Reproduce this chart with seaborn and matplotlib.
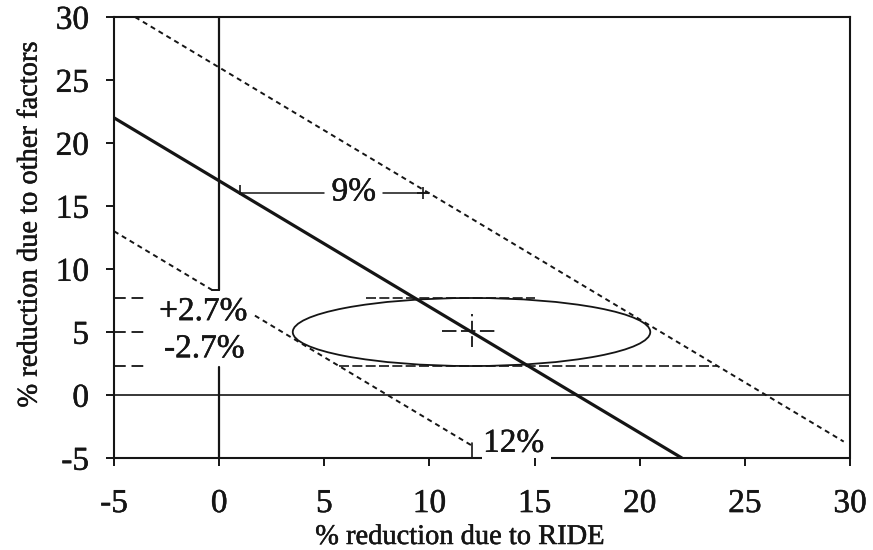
import matplotlib
matplotlib.use("Agg")
import matplotlib.pyplot as plt
import matplotlib.patheffects as pe
from matplotlib.patches import Ellipse
import seaborn as sns

# ---- data -------------------------------------------------------------
ticks = [-5, 0, 5, 10, 15, 20, 25, 30]

# central line: RIDE + other factors = 17 %
central_ride = [-5, 22]
central_other = [22, -5]
# +9 % band line
upper_ride = [-4, 29.7]
upper_other = [30, -3.7]
# -9 % band line (broken where the "+2.7%" label sits)
lower_ride_a = [-5, -0.2]
lower_other_a = [13, 8.2]
lower_ride_b = [1.7, 12]
lower_other_b = [6.3, -4]

# estimate and its uncertainty ellipse
est_ride = 12.0
est_other = 5.0
ellipse_width = 17.0
other_err = 2.7
cross_ride = [10.6, 13.2]
cross_other = [3.8, 6.4]

# horizontal guides at the estimate +/- 2.7 %
guide_levels = [est_other + other_err, est_other, est_other - other_err]
guide_left = [-5, -3.5]
upper_guide_ride = [7.0, 15.0]
lower_guide_ride = [5.7, 23.7]

# axis guide lines at zero (vertical one broken by the labels)
zero_upper = [30, 8.3]
zero_lower = [2.2, -5]

# "9%" dimension line
nine_y = 16.0
nine_ride_a = [1.0, 5.0]
nine_ride_b = [7.8, 10.0]
nine_label_x = 6.4

# "12%" marker
twelve_x = 12.0
twelve_tick = [-3.8, -5]
bottom_frame_a = [-5, 12.5]
bottom_frame_b = [15.8, 30]

# ---- style ------------------------------------------------------------
sns.set_theme(style="ticks")
serif = ["Liberation Serif", "DejaVu Serif"]
plt.rcParams["font.family"] = serif
plt.rcParams["axes.unicode_minus"] = False
ink = "#151515"
heavy = [pe.withStroke(linewidth=0.35, foreground=ink)]

fig = plt.figure(figsize=(8.73, 5.5), dpi=100)
ax = fig.add_axes([0.1306, 0.1673, 0.8431, 0.8017])

lw_frame = 1.5
for side in ["top", "left", "right"]:
    ax.spines[side].set_linewidth(lw_frame)
    ax.spines[side].set_color(ink)
ax.spines["bottom"].set_visible(False)

# bottom frame, broken for the "12%" label
for seg in (bottom_frame_a, bottom_frame_b):
    ax.plot(seg, [-5, -5], color=ink, lw=lw_frame, clip_on=False, zorder=3,
            solid_capstyle="butt")

# central line
sns.lineplot(x=central_ride, y=central_other, ax=ax, color=ink, lw=2.3,
             estimator=None, sort=False)
# band lines
dash_band = (0, (2.6, 2.1))
sns.lineplot(x=upper_ride, y=upper_other, ax=ax, color=ink, lw=1.4,
             linestyle=dash_band, estimator=None, sort=False)
sns.lineplot(x=lower_ride_a, y=lower_other_a, ax=ax, color=ink, lw=1.4,
             linestyle=dash_band, estimator=None, sort=False)
sns.lineplot(x=lower_ride_b, y=lower_other_b, ax=ax, color=ink, lw=1.4,
             linestyle=dash_band, estimator=None, sort=False)

# zero lines
ax.plot([-5, 30], [0, 0], color=ink, lw=1.2)
ax.plot([0, 0], zero_upper, color=ink, lw=1.6)
ax.plot([-0.35, 0], [zero_upper[1], zero_upper[1]], color=ink, lw=1.4)
ax.plot([0, 0], zero_lower, color=ink, lw=1.6)

# ellipse around the estimate
ax.add_patch(Ellipse((est_ride, est_other), ellipse_width, 2 * other_err,
                     fill=False, edgecolor=ink, lw=1.3))
# estimate cross
ax.plot(cross_ride, [est_other + 0.1] * 2, color=ink, lw=1.3,
        linestyle=(0, (8, 2.5)))
ax.plot([est_ride, est_ride], cross_other, color=ink, lw=1.3,
        linestyle=(0, (6, 2.5)))

# horizontal guides
dash_guide = (0, (6.5, 3.2))
for lvl in guide_levels:
    ax.plot(guide_left, [lvl, lvl], color=ink, lw=1.3, linestyle=dash_guide)
ax.plot(upper_guide_ride, [guide_levels[0]] * 2, color=ink, lw=1.2,
        linestyle=(0, (6, 2)))
ax.plot(lower_guide_ride, [guide_levels[2]] * 2, color=ink, lw=1.2,
        linestyle=(0, (6, 2)))

# "9%" dimension line
ax.plot(nine_ride_a, [nine_y] * 2, color=ink, lw=1.1)
ax.plot(nine_ride_b, [nine_y] * 2, color=ink, lw=1.1)
ax.plot([nine_ride_a[0]], [nine_y + 0.25], marker="|", ms=7, mew=1.2, color=ink)
ax.plot([nine_ride_b[1] - 0.3], [nine_y], marker="+", ms=9, mew=1.2, color=ink)
ax.text(nine_label_x, nine_y + 0.1, "9%", ha="center", va="center",
        fontsize=24, color=ink, family=serif, path_effects=heavy)

# "12%" marker
ax.plot([twelve_x, twelve_x], twelve_tick, color=ink, lw=1.2, clip_on=False)
ax.text(twelve_x + 0.55, -3.85, "12%", ha="left", va="center",
        fontsize=24, color=ink, family=serif, path_effects=heavy)

# +/- 2.7 % labels
ax.text(-0.75, 6.6, "+2.7%", ha="center", va="center", fontsize=24,
        color=ink, family=serif, path_effects=heavy)
ax.text(-0.7, 3.65, "-2.7%", ha="center", va="center", fontsize=24,
        color=ink, family=serif, path_effects=heavy)

# ---- axes -------------------------------------------------------------
ax.set_xlim(-5, 30)
ax.set_ylim(-5, 30)
ax.set_xticks(ticks)
ax.set_yticks(ticks)
ax.set_xticklabels([str(t) for t in ticks], family=serif)
ax.set_yticklabels([str(t) for t in ticks], family=serif)
ax.tick_params(axis="both", direction="out", length=6, width=1.4,
               color=ink, labelcolor=ink, labelsize=24)
ax.tick_params(axis="x", pad=16)
ax.tick_params(axis="y", pad=12)
for lab in ax.get_xticklabels() + ax.get_yticklabels():
    lab.set_path_effects(heavy)

ax.set_xlabel("% reduction due to RIDE", fontsize=20.5, color=ink,
              family=serif, path_effects=heavy)
ax.set_ylabel("% reduction due to other factors", fontsize=20.5, color=ink,
              family=serif, path_effects=heavy)
ax.xaxis.set_label_coords(0.47, -0.152)
ax.yaxis.set_label_coords(-0.097, 0.53)

fig.savefig("out.png", dpi=100)
